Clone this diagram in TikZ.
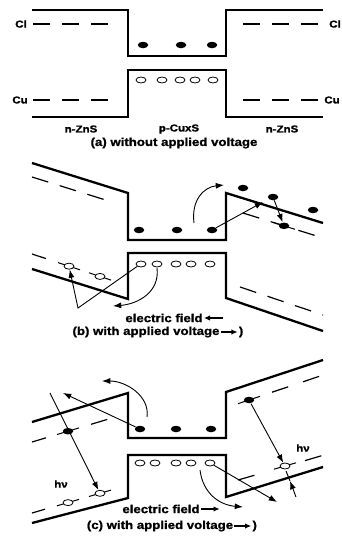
\documentclass[tikz,border=0pt]{standalone}
\usepackage{fontspec}
\setmainfont{Liberation Sans}[FakeStretch=1.15, BoldFeatures={FakeBold=1.3}]
\usetikzlibrary{arrows.meta, positioning, shapes.geometric}

\begin{document}
\begin{tikzpicture}[x=1pt, y=-1pt, >={Latex[length=2.9mm, width=2.1mm]},
    band/.style={line width=2.3pt},
    lvl/.style={line width=1.2pt, dash pattern=on 17pt off 12pt},
    tail/.style={line width=1pt},
    el/.style={ellipse, fill, inner sep=0pt, minimum width=10.5pt, minimum height=6.5pt},
    ho/.style={ellipse, draw, fill=white, line width=0.8pt, inner sep=0pt, minimum width=10pt, minimum height=6pt},
    mv/.style={->, line width=0.9pt},
    txtarr/.style={->, line width=1.3pt, >={Latex[length=2.2mm, width=1.9mm]}},
    lbl/.style={font=\bfseries\fontsize{10}{12}\selectfont, inner sep=1pt},
    captxt/.style={font=\bfseries\fontsize{11.5}{13}\selectfont, inner sep=1pt}]

  \useasboundingbox (0,0) rectangle (342,538);

  % (a) without applied voltage
  \draw[band] (32,10) -- (128,10) -- (128,56) -- (226,56) -- (226,10) -- (323,10);
  \draw[band] (32,117) -- (128,117) -- (128,70) -- (226,70) -- (226,117) -- (323,117);
  \node[lbl] (clL) at (21,24) {Cl};
  \node[lbl] (clR) at (335,24) {Cl};
  \node[lbl] (cuL) at (20,100) {Cu};
  \node[lbl] (cuR) at (332,100) {Cu};
  \draw[lvl] (33,24) -- (108,24);
  \draw[lvl] (243,24) -- (318,24);
  \draw[lvl] (33,100) -- (108,100);
  \draw[lvl] (243,100) -- (318,100);
  \node[el] (ea1) at (143,45) {}; \node[el] (ea2) at (181,45) {}; \node[el] (ea3) at (212,45) {};
  \node[ho] (ha1) at (141,80) {}; \node[ho] (ha2) at (162,80) {}; \node[ho] (ha3) at (180,80) {};
  \node[ho] (ha4) at (195,80) {}; \node[ho] (ha5) at (213,80) {};
  \node[lbl] (znL) at (81,129) {n-ZnS};
  \node[lbl] (cus) at (179,129) {p-CuxS};
  \node[lbl] (znR) at (282,129) {n-ZnS};
  \node[captxt] (capa) at (174,143) {(a) without applied voltage};

  % (b) with applied voltage
  \draw[band] (32,163) -- (128,193) -- (128,240) -- (226,240) -- (226,193) -- (323,223);
  \draw[band] (32,269) -- (128,299) -- (128,253) -- (226,253) -- (226,298) -- (323,331);
  \draw[lvl] (32,177) -- (112,202);
  \draw[lvl] (243,213) -- (323,238);
  \draw[lvl] (240,287) -- (323,315);
  \draw[lvl] (32,254) -- (46,258.6);
  \node[el] (eb1) at (139,230) {}; \node[el] (eb2) at (177,230) {}; \node[el] (eb3) at (212,230) {};
  \node[el] (eb4) at (243,188) {}; \node[el] (eb5) at (273,197) {}; \node[el] (eb6) at (313,210) {};
  \draw[tail] (273,222.4) -- node[el] (eb7) {} (295,229.3);
  \node[ho] (hb1) at (141,264) {}; \node[ho] (hb2) at (157,264) {}; \node[ho] (hb3) at (176,264) {};
  \node[ho] (hb4) at (191,264) {}; \node[ho] (hb5) at (210,264) {};
  \draw[tail] (58,262.6) -- node[ho] (hb6) {} (80,269.8);
  \draw[tail] (89,272.8) -- node[ho] (hb7) {} (111,280.1);
  \draw[mv] (194,223) .. controls (191,200) and (204,187) .. (224,185);
  \draw[mv] (eb3) -- (263,202);
  \draw[mv] (eb5) -- (eb7);
  \draw[mv] (hb1.south west) -- (78,308) -- (hb6);
  \draw[mv] (157,268) .. controls (160,292) and (138,304) .. (113,306);
  \node[captxt] (efb) at (164,318) {electric field};
  \coordinate[right=19pt of efb] (efbR);
  \draw[txtarr] (efbR) -- (efb);
  \node[captxt] (capb) at (146,332) {(b) with applied voltage};
  \node[captxt, right=17pt of capb] (capbP) {)};
  \draw[txtarr] (capb) -- (capbP);

  % (c) with applied voltage
  \draw[band] (32,422) -- (128,393) -- (128,438) -- (226,438) -- (226,392) -- (323,360);
  \draw[band] (32,523) -- (128,498) -- (128,455) -- (226,455) -- (226,497) -- (323,467);
  \draw[lvl] (32,442) -- (46,437.8);
  \draw[lvl] (91,424.3) -- (113,417.7);
  \draw[lvl] (272,392.2) -- (290,386.2);
  \draw[lvl] (303,381.8) -- (322,375.4);
  \draw[lvl] (32,513) -- (45,509.2);
  \draw[lvl] (238,480) -- (255,475.1);
  \draw[lvl] (305,460.6) -- (322,455.6);
  \node[el] (ec1) at (140,429) {}; \node[el] (ec2) at (176,429) {}; \node[el] (ec3) at (211,429) {};
  \draw[tail] (57,434.5) -- node[el] (ec4) {} (79,427.9);
  \draw[tail] (238,403.7) -- node[el] (ec5) {} (260,396.3);
  \node[ho] (hc1) at (140,463) {}; \node[ho] (hc2) at (155,463) {}; \node[ho] (hc3) at (176,463) {};
  \node[ho] (hc4) at (191,463) {}; \node[ho] (hc5) at (210,463) {};
  \draw[tail] (57,505.8) -- node[ho] (hc6) {} (79,499.4);
  \draw[tail] (89,496.5) -- node[ho] (hc7) {} (111,490.1);
  \draw[tail] (274,469.2) -- node[ho] (hc8) {} (296,462.8);
  \coordinate (phL) at (50,393);
  \draw[mv] (phL) -- (hc7);
  \draw[mv] (ec1) -- (63,393);
  \draw[mv] (147,417) .. controls (150,396) and (126,381) .. (102,381);
  \draw[mv] (ec5) -- (hc8);
  \draw[mv] (296,497) -- (290,481);
  \draw[tail] (290,481) -- (286,471);
  \draw[mv] (hc5) -- (277,502);
  \draw[mv] (200,470) .. controls (203,494) and (220,505) .. (243,507);
  \node[lbl] (hvL) at (61,484) {hν};
  \node[lbl] (hvR) at (303,448) {hν};
  \node[captxt] (efc) at (161,509) {electric field};
  \coordinate[right=19pt of efc] (efcR);
  \draw[txtarr] (efc) -- (efcR);
  \node[captxt] (capc) at (160,526) {(c) with applied voltage};
  \node[captxt, right=17pt of capc] (capcP) {)};
  \draw[txtarr] (capc) -- (capcP);
\end{tikzpicture}
\end{document}
